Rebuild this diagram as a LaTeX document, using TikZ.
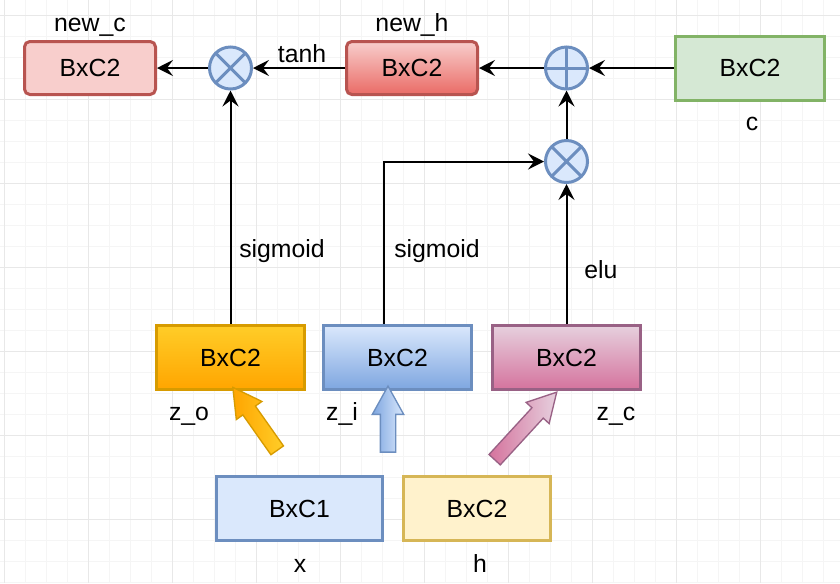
\documentclass[tikz,border=0pt]{standalone}
\usepackage{fontspec}
\setmainfont{Liberation Sans}
\usepackage{tikz}
\usetikzlibrary{arrows.meta,shapes.arrows}

\definecolor{redfill}{HTML}{F8CECC}
\definecolor{reddark}{HTML}{EA6B66}
\definecolor{redline}{HTML}{B85450}
\definecolor{greenfill}{HTML}{D5E8D4}
\definecolor{greenline}{HTML}{82B366}
\definecolor{bluefill}{HTML}{DAE8FC}
\definecolor{bluedark}{HTML}{7EA6E0}
\definecolor{blueline}{HTML}{6C8EBF}
\definecolor{orangetop}{HTML}{FFCD28}
\definecolor{orangebot}{HTML}{FFA500}
\definecolor{orangeline}{HTML}{D79B00}
\definecolor{pinktop}{HTML}{E6D0DE}
\definecolor{pinkbot}{HTML}{D5739D}
\definecolor{pinkline}{HTML}{996185}
\definecolor{yellowfill}{HTML}{FFF2CC}
\definecolor{yellowline}{HTML}{D6B656}

\tikzset{
  every node/.style={font=\fontsize{18.6}{22}\selectfont},
  gridminor/.style={line width=0.75pt, color=black!4},
  gridmajor/.style={line width=0.75pt, color=black!9},
  box/.style={draw, line width=2.25pt, minimum width=111pt, minimum height=48pt, inner sep=0pt},
  rbox/.style={box, rounded corners=4pt, minimum width=98.25pt, minimum height=39.75pt},
  opnode/.style={circle, draw=blueline, fill=bluefill, line width=2.25pt, minimum size=31.5pt, inner sep=0pt},
  mulop/.style={opnode, path picture={
    \draw[blueline, line width=2.25pt]
      (path picture bounding box.south west) -- (path picture bounding box.north east)
      (path picture bounding box.north west) -- (path picture bounding box.south east);}},
  addop/.style={opnode, path picture={
    \draw[blueline, line width=2.25pt]
      (path picture bounding box.west) -- (path picture bounding box.east)
      (path picture bounding box.north) -- (path picture bounding box.south);}},
  conn/.style={line width=1.5pt, -{Stealth[length=12pt, width=12pt, inset=4.5pt]}},
  blockarrow/.style={single arrow, line width=1pt, inner xsep=0pt, inner ysep=5.25pt,
    single arrow head extend=6pt, single arrow tip angle=58},
  lbl/.style={anchor=base, inner sep=0pt}
}

\begin{document}
\begin{tikzpicture}[x=0.75pt, y=-0.75pt]
\useasboundingbox (0,0) rectangle (840,583);
\fill[white] (0,0) rectangle (840,583);

% grid
\foreach \i in {0,...,39} \draw[gridminor] ({4+21*\i},0) -- ++(0,583);
\foreach \j in {0,...,27} \draw[gridminor] (0,{15+21*\j}) -- ++(840,0);
\foreach \i in {0,...,9} \draw[gridmajor] ({4+84*\i},0) -- ++(0,583);
\foreach \j in {0,...,6} \draw[gridmajor] (0,{15+84*\j}) -- ++(840,0);

% top row
\node[rbox, draw=redline, fill=redfill] (newc) at (90,68) {BxC2};
\node[mulop] (mul1) at (230.5,68) {};
\node[rbox, draw=redline, top color=redfill, bottom color=reddark] (newh) at (412,68) {BxC2};
\node[addop] (add) at (566.5,68) {};
\node[box, draw=greenline, fill=greenfill, minimum width=111.75pt] (cin) at (750,68) {BxC2};
\node[mulop] (mul2) at (566.5,161.5) {};

% gates
\node[box, draw=orangeline, top color=orangetop, bottom color=orangebot] (zo) at (230.5,357.5) {BxC2};
\node[box, draw=blueline, top color=bluefill, bottom color=bluedark] (zi) at (397.5,357.5) {BxC2};
\node[box, draw=pinkline, top color=pinktop, bottom color=pinkbot] (zc) at (566.5,357.5) {BxC2};

% inputs
\node[box, draw=blueline, fill=bluefill, minimum width=124.5pt] (xin) at (299.5,508.5) {BxC1};
\node[box, draw=yellowline, fill=yellowfill, minimum width=110.25pt] (hin) at (477,508.5) {BxC2};

% block arrows
\node[blockarrow, draw=orangeline, left color=orangebot, right color=orangetop,
  rotate=125.2, minimum height=57.75pt] (arro) at (259,424.5) {};
\node[blockarrow, draw=blueline, left color=bluedark, right color=bluefill,
  rotate=90, minimum height=49.5pt] (arri) at (388,426) {};
\node[blockarrow, draw=pinkline, left color=pinkbot, right color=pinktop,
  rotate=47.4, minimum height=68.8pt] (arrc) at (521,431) {};

% labels
\node[lbl] (newclbl) at (90,31) {new\_c};
\node[lbl] (newhlbl) at (412,31) {new\_h};
\node[lbl] (clbl) at (752,130) {c};
\node[lbl] (tanhlbl) at (302,62) {tanh};
\node[lbl, anchor=base west] (sigo) at (239,257) {sigmoid};
\node[lbl, anchor=base west] (sigi) at (394,257) {sigmoid};
\node[lbl, anchor=base west] (elulbl) at (584,278) {elu};
\node[lbl] (zolbl) at (189,420) {z\_o};
\node[lbl] (zilbl) at (342,420) {z\_i};
\node[lbl] (zclbl) at (616,420) {z\_c};
\node[lbl] (xlbl) at (300,572) {x};
\node[lbl] (hlbl) at (480,572) {h};

% connectors
\draw[conn] (mul1) -- (newc);
\draw[conn] (newh) -- (mul1);
\draw[conn] (add) -- (newh);
\draw[conn] (cin) -- (add);
\draw[conn] (mul2) -- (add);
\draw[conn] (zo) -- (mul1);
\draw[conn] (zc) -- (mul2);
\draw[conn] ([xshift=-10.1pt]zi.north) |- (mul2);

\end{tikzpicture}
\end{document}
